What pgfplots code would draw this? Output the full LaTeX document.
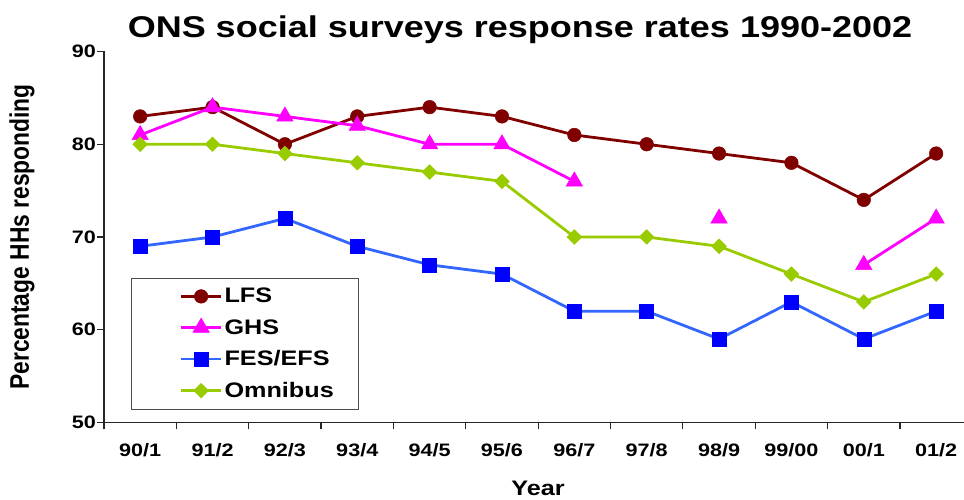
\documentclass[border=0pt]{standalone}
\usepackage{pgfplots}
\pgfplotsset{compat=1.18}
\usepackage{pgfplotstable}
\usepackage{fontspec}
\usepackage{graphicx}
\setmainfont{Liberation Sans}[FakeStretch=1.2]
\newfontfamily\plainfont{Liberation Sans}
\definecolor{lfs}{RGB}{128,0,0}
\definecolor{ghs}{RGB}{255,0,255}
\definecolor{fesline}{RGB}{51,102,255}
\definecolor{fesmark}{RGB}{0,0,255}
\definecolor{omni}{RGB}{153,204,0}

\pgfplotstableread{
x LFS GHS FES OMN
0 83 81 69 80
1 84 84 70 80
2 80 83 72 79
3 83 82 69 78
4 84 80 67 77
5 83 80 66 76
6 81 76 62 70
7 80 nan 62 70
8 79 72 59 69
9 78 nan 63 66
10 74 67 59 63
11 79 72 62 66
}\surveys

\begin{document}
\begin{tikzpicture}
\begin{axis}[
  at={(0,0)}, anchor=south west,
  scale only axis, width=860bp, height=371bp,
  xmin=-0.5, xmax=11.385, ymin=50, ymax=90,
  axis x line*=bottom, axis y line*=left,
  axis line style={black!85, line width=1.2bp, -},
  ytick={50,60,70,80,90},
  xtick={0,...,11},
  xticklabels={90/1,91/2,92/3,93/4,94/5,95/6,96/7,97/8,98/9,99/00,00/1,01/2},
  minor xtick={-0.5,0.5,...,10.5},
  tick align=outside,
  major tick length=7bp, minor tick length=7bp,
  major x tick style={draw=none},
  minor x tick style={black!85, line width=1.2bp},
  major y tick style={black!85, line width=1.2bp},
  /pgf/number format/assume math mode=true,
  ticklabel style={font=\fontsize{18bp}{20bp}\selectfont\bfseries},
  xticklabel style={anchor=north, inner sep=0pt, text height=13bp, text depth=0pt},
  xticklabel shift=14bp,
  yticklabel style={anchor=east, inner sep=0pt},
  yticklabel shift=1bp,
  unbounded coords=jump,
  legend cell align=left,
  legend style={at={(rel axis cs:0.031,0.035)}, anchor=south west,
    draw=black!70, line width=1bp, fill=white,
    inner xsep=8bp, inner ysep=8bp, row sep=11bp,
    font=\fontsize{21bp}{24bp}\selectfont\bfseries},
  legend image code/.code={
    \path[draw=none, fill=none] (-42bp,0bp) -- (0bp,0bp);
    \draw[mark repeat=2,mark phase=2] plot coordinates {(0bp,0bp)(20bp,0bp)(40bp,0bp)};
  },
]
\addplot[lfs, line width=2.8bp, mark=*, mark size=6.8bp,
  mark options={solid, fill=lfs, draw=lfs, line width=0.5bp}]
  table[x=x,y=LFS]{\surveys};
\addlegendentry{\makebox[124bp][l]{LFS}}
\addplot[ghs, line width=2.8bp, mark=triangle*, mark size=9.5bp,
  mark options={solid, fill=ghs, draw=ghs, line width=0.5bp}]
  table[x=x,y=GHS]{\surveys};
\addlegendentry{\makebox[124bp][l]{GHS}}
\addplot[fesline, line width=2.8bp, mark=square*, mark size=7bp,
  mark options={solid, fill=fesmark, draw=fesmark, line width=0.5bp}]
  table[x=x,y=FES]{\surveys};
\addlegendentry{\makebox[124bp][l]{FES/EFS}}
\addplot[omni, line width=2.8bp, mark=square*, mark size=5.2bp,
  mark options={solid, fill=omni, draw=omni, line width=0.5bp, rotate=45}]
  table[x=x,y=OMN]{\surveys};
\addlegendentry{\makebox[124bp][l]{Omnibus}}
\end{axis}
\node[font=\fontsize{30bp}{36bp}\selectfont\bfseries] at (416bp,393bp)
  {ONS social surveys response rates 1990-2002};
\node[rotate=90, font=\plainfont\fontsize{22.8bp}{26bp}\selectfont\bfseries] at (-82bp,185.5bp)
  {\scalebox{1}[1.18]{Percentage HHs responding}};
\node[font=\fontsize{21bp}{24bp}\selectfont\bfseries] at (434bp,-65.5bp) {Year};
\pgfresetboundingbox
\path[use as bounding box] (-104bp,-77.5bp) rectangle (860bp,422.5bp);
\end{tikzpicture}
\end{document}
